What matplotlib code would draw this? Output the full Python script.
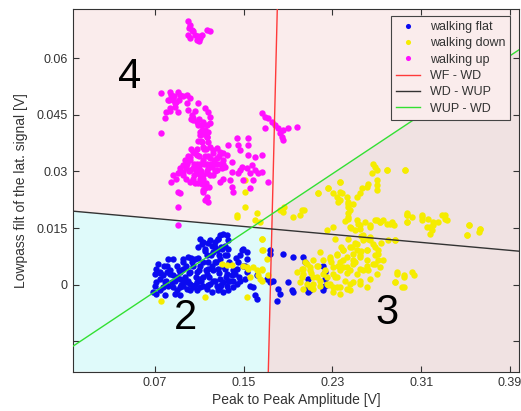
import numpy as np
import matplotlib
matplotlib.use('Agg')
import matplotlib.pyplot as plt

plt.rcParams['font.family'] = ['Liberation Sans', 'DejaVu Sans']

# walking flat (blue)
flat_x = [0.1106, 0.1136, 0.1151, 0.1166, 0.1181, 0.1121, 0.1091, 0.1211, 0.1241, 0.1271,
          0.1286, 0.1316, 0.1347, 0.1361, 0.1331, 0.1301, 0.1257, 0.1226, 0.1196, 0.1361,
          0.1347, 0.1286, 0.1241, 0.1211, 0.1181, 0.1166, 0.1136, 0.1106, 0.1076, 0.1046,
          0.1016, 0.0986, 0.0955, 0.0925, 0.0896, 0.0865, 0.0835, 0.0806, 0.0775, 0.0745,
          0.0715, 0.0700, 0.0685, 0.0715, 0.0745, 0.0775, 0.0790, 0.0820, 0.0851, 0.0865,
          0.0896, 0.0925, 0.0955, 0.0986, 0.1016, 0.1046, 0.1076, 0.1106, 0.1136, 0.1166,
          0.1196, 0.1226, 0.1257, 0.1286, 0.1316, 0.1347, 0.1377, 0.1392, 0.1422, 0.1437,
          0.1452, 0.1467, 0.1482, 0.1497, 0.1527, 0.1527, 0.1512, 0.1527, 0.1512, 0.1467,
          0.1437, 0.1406, 0.1361, 0.1316, 0.1271, 0.0865, 0.0820, 0.0806, 0.0730, 0.0715,
          0.0700, 0.0745, 0.0955, 0.1001, 0.1031, 0.1061, 0.1016, 0.0955, 0.1076, 0.1106,
          0.0896, 0.0925, 0.1271, 0.1331, 0.1347, 0.1286, 0.0790, 0.0925, 0.0880, 0.1211,
          0.1406, 0.1557, 0.1587, 0.1602, 0.1617, 0.1707, 0.1737, 0.1617,
          0.1737, 0.1737, 0.1857, 0.1947, 0.2038, 0.2053, 0.1767, 0.1812, 0.1828, 0.1798,
          0.1902, 0.1933, 0.1947, 0.2083, 0.2083, 0.2098, 0.2083, 0.2218, 0.2233, 0.2233,
          0.2233, 0.2218,
          0.092, 0.095, 0.098, 0.101, 0.104, 0.107, 0.110, 0.113, 0.116, 0.119,
          0.122, 0.125, 0.128, 0.131, 0.134, 0.137, 0.140, 0.143, 0.146, 0.149,
          0.088, 0.094, 0.100, 0.106, 0.112, 0.118, 0.124, 0.130, 0.136, 0.115,
          0.118, 0.121, 0.124, 0.127, 0.130, 0.133, 0.128, 0.075, 0.080, 0.084,
          0.078, 0.097, 0.103, 0.109]
flat_y = [0.0122, 0.0113, 0.0096, 0.0078, 0.0060, 0.0109, 0.0100, 0.0104, 0.0113, 0.0122,
          0.0131, 0.0135, 0.0131, 0.0118, 0.0104, 0.0096, 0.0091, 0.0087, 0.0118, 0.0096,
          0.0078, 0.0069, 0.0060, 0.0051, 0.0042, 0.0029, 0.0020, 0.0016, 0.0007, -0.0002,
          0.0003, 0.0007, 0.0011, 0.0016, 0.0020, 0.0025, 0.0029, 0.0033, 0.0025, 0.0016,
          0.0007, -0.0002, -0.0020, -0.0024, -0.0015, -0.0006, 0.0007, -0.0002, 0.0007, -0.0006,
          -0.0015, -0.0006, -0.0002, -0.0011, -0.0015, -0.0006, -0.0015, -0.0006, -0.0002, -0.0011,
          0.0003, 0.0011, -0.0002, -0.0006, 0.0007, -0.0002, 0.0011, 0.0025, 0.0029, 0.0042,
          0.0060, 0.0078, 0.0091, 0.0096, 0.0087, 0.0069, 0.0051, 0.0033, 0.0016, 0.0011,
          0.0003, -0.0006, -0.0015, -0.0020, -0.0015, 0.0069, 0.0069, 0.0051, 0.0056, 0.0042,
          0.0029, 0.0033, 0.0069, 0.0073, 0.0060, 0.0069, 0.0033, 0.0042, 0.0033, 0.0051,
          0.0051, 0.0033, 0.0042, 0.0042, 0.0029, 0.0016, -0.0028, -0.0028, -0.0024, -0.0020,
          0.0011, -0.0002, -0.0006, -0.0028, -0.0037, 0.0016, 0.0007, 0.0025,
          0.0091, 0.0082, 0.0082, 0.0073, 0.0073, 0.0060, 0.0011, -0.0011, -0.0024, -0.0042,
          0.0007, -0.0015, -0.0020, 0.0016, -0.0006, -0.0015, -0.0020, 0.0051, 0.0033, 0.0016,
          -0.0002, -0.0015,
          0.004, 0.006, 0.005, 0.003, 0.005, 0.002, 0.004, 0.006, 0.004, 0.002,
          0.004, 0.006, 0.003, 0.005, 0.002, 0.006, 0.004, 0.007, 0.002, 0.005,
          0.001, 0.000, 0.001, 0.000, 0.001, 0.000, 0.001, 0.000, 0.001, 0.009,
          0.011, 0.008, 0.010, 0.012, 0.010, 0.008, 0.008, 0.003, 0.001, 0.004,
          0.005, 0.002, 0.007, 0.007]

# walking down (yellow)
down_x = [0.2669, 0.2684, 0.2700, 0.2655, 0.2790, 0.2955, 0.2624, 0.2610, 0.2700, 0.2700,
          0.2700, 0.2369, 0.2263, 0.2308, 0.2339, 0.2353, 0.2369, 0.2384, 0.2429, 0.2444,
          0.2444, 0.2444, 0.2444, 0.2489, 0.2519, 0.2549, 0.2564, 0.2173, 0.2023, 0.2008,
          0.1947, 0.1857, 0.1828, 0.2249, 0.2308, 0.2459, 0.2504, 0.2549, 0.2594, 0.2639,
          0.2684, 0.2729, 0.2759, 0.2820, 0.2970, 0.2970, 0.2865, 0.2579, 0.2639, 0.2684,
          0.2714, 0.2610, 0.2519, 0.2474, 0.2398, 0.2339, 0.2279, 0.2188, 0.2128, 0.2068,
          0.2023, 0.2038, 0.2098, 0.2159, 0.2218, 0.2308, 0.2369, 0.2429, 0.2489, 0.2549,
          0.2610, 0.2669, 0.2714, 0.2398, 0.2459, 0.2519, 0.2579, 0.2339, 0.2414, 0.2489,
          0.2549, 0.2610, 0.2279, 0.2339, 0.2128, 0.2098, 0.2038, 0.2308, 0.2369, 0.2459,
          0.2880, 0.2940, 0.2865, 0.2925,
          0.2970, 0.3015, 0.3106, 0.3106, 0.3165, 0.3255, 0.3316, 0.3331, 0.3210, 0.3196,
          0.3181, 0.3151, 0.2970, 0.3526, 0.3511, 0.3631, 0.3616, 0.2835, 0.2865, 0.2804,
          0.2955, 0.2790,
          0.2369, 0.2444, 0.2459, 0.2444, 0.2519, 0.2549, 0.2639, 0.2700, 0.2729, 0.2790,
          0.2850, 0.2970, 0.3106, 0.3181, 0.3210, 0.3286, 0.3316, 0.3526, 0.3631, 0.3511,
          0.2880, 0.2940, 0.3015, 0.3030, 0.2865, 0.2940, 0.2700, 0.2639, 0.2549, 0.2459,
          0.2429, 0.2369, 0.2308, 0.2249, 0.2188, 0.2128, 0.2068, 0.2008, 0.1978, 0.2038,
          0.2098, 0.2159, 0.2218, 0.2279, 0.2339, 0.2398, 0.2459, 0.2519, 0.2579, 0.2639,
          0.2669, 0.2610, 0.2549, 0.2489, 0.2429, 0.2369, 0.2308, 0.2249, 0.2128, 0.2023,
          0.2549, 0.2610, 0.2684, 0.2729, 0.2759, 0.2714, 0.2489, 0.2398,
          0.1302, 0.1347, 0.1392, 0.1497, 0.1527, 0.1542, 0.1587, 0.1617, 0.1632, 0.1662,
          0.1662, 0.1677, 0.1707, 0.1647, 0.1722, 0.1557, 0.1151, 0.0760, 0.1437, 0.1602,
          0.1527, 0.1512, 0.1512, 0.1512, 0.1437, 0.1617, 0.1647, 0.1662, 0.1662, 0.1662,
          0.1662, 0.2173, 0.2263, 0.2369, 0.2046, 0.1864,
          0.232, 0.238, 0.244, 0.250, 0.256, 0.262, 0.247, 0.253, 0.241, 0.235,
          0.229, 0.223, 0.217, 0.211, 0.205, 0.243, 0.250, 0.256, 0.262, 0.268,
          0.274, 0.219, 0.226, 0.232]
down_y = [0.0321, 0.0312, 0.0303, 0.0295, 0.0303, 0.0303, 0.0268, 0.0259, 0.0277, 0.0264,
          0.0250, 0.0272, 0.0255, 0.0242, 0.0233, 0.0219, 0.0246, 0.0242, 0.0233, 0.0219,
          0.0206, 0.0189, 0.0175, 0.0215, 0.0233, 0.0242, 0.0255, 0.0242, 0.0197, 0.0184,
          0.0179, 0.0193, 0.0197, 0.0144, 0.0153, 0.0153, 0.0144, 0.0149, 0.0166, 0.0157,
          0.0171, 0.0166, 0.0171, 0.0162, 0.0166, 0.0184, 0.0118, 0.0131, 0.0118, 0.0100,
          0.0091, 0.0091, 0.0091, 0.0100, 0.0091, 0.0082, 0.0073, 0.0087, 0.0065, 0.0056,
          0.0042, 0.0029, 0.0038, 0.0020, 0.0029, 0.0047, 0.0060, 0.0073, 0.0065, 0.0078,
          0.0065, 0.0056, 0.0065, 0.0047, 0.0038, 0.0029, 0.0038, 0.0020, 0.0011, 0.0007,
          0.0003, -0.0006, 0.0003, -0.0006, 0.0003, -0.0006, -0.0011, -0.0020, -0.0024, -0.0015,
          0.0029, 0.0025, 0.0007, -0.0006,
          0.0189, 0.0179, 0.0184, 0.0171, 0.0175, 0.0166, 0.0184, 0.0171, 0.0157, 0.0144,
          0.0135, 0.0153, 0.0166, 0.0157, 0.0131, 0.0149, 0.0140, 0.0166, 0.0118, 0.0118,
          0.0303, 0.0303,
          0.0224, 0.0215, 0.0197, 0.0179, 0.0171, 0.0157, 0.0153, 0.0171, 0.0166, 0.0162,
          0.0157, 0.0184, 0.0179, 0.0153, 0.0166, 0.0184, 0.0175, 0.0157, 0.0149, 0.0131,
          0.0033, 0.0020, 0.0033, 0.0025, 0.0007, -0.0006, 0.0029, 0.0016, 0.0011, 0.0003,
          -0.0011, -0.0006, -0.0006, 0.0003, -0.0002, -0.0011, 0.0003, 0.0007, 0.0033, 0.0042,
          0.0047, 0.0051, 0.0065, 0.0069, 0.0078, 0.0091, 0.0100, 0.0109, 0.0118, 0.0126,
          0.0109, 0.0091, 0.0073, 0.0056, 0.0047, 0.0038, 0.0029, 0.0020, 0.0020, 0.0020,
          0.0042, 0.0051, 0.0056, 0.0047, 0.0065, 0.0082, 0.0082, 0.0065,
          0.0056, 0.0053, 0.0053, 0.0051, 0.0047, 0.0042, 0.0047, 0.0038, 0.0025, 0.0042,
          0.0122, 0.0091, 0.0069, 0.0016, 0.0025, 0.0020, -0.0033, -0.0042, 0.0179, 0.0171,
          -0.0033, 0.0277, 0.0246, 0.0206, 0.0184, 0.0189, 0.0166, 0.0122, 0.0091, 0.0038,
          0.0011, 0.0242, 0.0255, 0.0272, 0.0197, 0.0206,
          0.012, 0.010, 0.012, 0.011, 0.013, 0.012, 0.015, 0.016, 0.017, 0.005,
          0.006, 0.004, 0.005, 0.003, 0.006, 0.003, 0.006, 0.009, 0.004, 0.008,
          0.011, 0.001, 0.000, 0.002]

# walking up (magenta)
up_x = [0.1000, 0.1016, 0.1010, 0.1031, 0.1046, 0.1000, 0.1016, 0.1061, 0.1091, 0.1076,
        0.1106, 0.1121, 0.1166, 0.1196, 0.1100,
        0.0760, 0.0835, 0.0850, 0.0910, 0.0925, 0.0986, 0.1016, 0.0820, 0.0865, 0.0895,
        0.0880, 0.0910, 0.0835, 0.0805, 0.0790, 0.0986, 0.1001, 0.1031, 0.1091, 0.1151,
        0.1181, 0.1196, 0.1046, 0.1076, 0.1121, 0.1196, 0.1151, 0.1181, 0.0760, 0.1106,
        0.1662, 0.1692, 0.1722, 0.1752, 0.1782, 0.1812, 0.1857, 0.1902, 0.1978, 0.1692,
        0.1827, 0.1842, 0.1857,
        0.1046, 0.1091, 0.1121, 0.1166, 0.1106, 0.1166, 0.1181, 0.1121, 0.1136, 0.1196,
        0.1226, 0.1256, 0.1286, 0.1046, 0.1076, 0.1016, 0.0986, 0.0955, 0.0925, 0.0910,
        0.0865, 0.0850, 0.0895, 0.0955, 0.1016, 0.1061, 0.1106, 0.1166, 0.1136, 0.1196,
        0.1256, 0.1286, 0.1316, 0.1301, 0.1331, 0.1346, 0.1256, 0.1226, 0.1166, 0.1136,
        0.1106, 0.1076, 0.1046, 0.1016, 0.1121, 0.1151, 0.1136, 0.1166, 0.1181, 0.1151,
        0.0910, 0.0910, 0.1391, 0.1376, 0.1391, 0.1406, 0.1316, 0.1286, 0.1467, 0.1451,
        0.1436, 0.1451, 0.1467, 0.1542, 0.1542, 0.1542, 0.1602, 0.1662, 0.1572, 0.1482,
        0.1527, 0.1557, 0.1602, 0.1632, 0.1587, 0.1557, 0.1497, 0.1722, 0.1361, 0.1316,
        0.1391, 0.1241, 0.1211,
        0.0910, 0.0925, 0.1662,
        0.098, 0.105, 0.108, 0.112, 0.115, 0.118, 0.100, 0.103, 0.108, 0.112,
        0.116, 0.121, 0.124, 0.109, 0.105, 0.114,
        0.095, 0.098, 0.101, 0.104, 0.107, 0.110, 0.113, 0.117, 0.120, 0.123,
        0.126, 0.102, 0.106, 0.110, 0.114, 0.118, 0.122, 0.111, 0.106, 0.116,
        0.119, 0.113, 0.109, 0.113, 0.117, 0.128, 0.131, 0.099, 0.093, 0.097,
        0.083, 0.087, 0.084, 0.088, 0.092, 0.095, 0.106, 0.110, 0.113, 0.103]
up_y = [0.0698, 0.0688, 0.0680, 0.0675, 0.0671, 0.0662, 0.0653, 0.0662, 0.0658, 0.0649,
        0.0653, 0.0662, 0.0675, 0.0673, 0.0644,
        0.0507, 0.0511, 0.0503, 0.0511, 0.0503, 0.0503, 0.0494, 0.0489, 0.0489, 0.0485,
        0.0471, 0.0458, 0.0467, 0.0458, 0.0441, 0.0481, 0.0463, 0.0450, 0.0481, 0.0467,
        0.0458, 0.0445, 0.0441, 0.0432, 0.0423, 0.0427, 0.0410, 0.0405, 0.0401, 0.0405,
        0.0454, 0.0445, 0.0441, 0.0432, 0.0423, 0.0414, 0.0410, 0.0414, 0.0418, 0.0414,
        0.0401, 0.0392, 0.0383,
        0.0436, 0.0423, 0.0410, 0.0423, 0.0396, 0.0392, 0.0379, 0.0379, 0.0365, 0.0365,
        0.0357, 0.0361, 0.0352, 0.0352, 0.0343, 0.0339, 0.0325, 0.0317, 0.0308, 0.0295,
        0.0290, 0.0272, 0.0281, 0.0299, 0.0303, 0.0312, 0.0321, 0.0321, 0.0330, 0.0335,
        0.0335, 0.0321, 0.0330, 0.0308, 0.0312, 0.0343, 0.0303, 0.0290, 0.0295, 0.0281,
        0.0290, 0.0295, 0.0281, 0.0272, 0.0268, 0.0255, 0.0246, 0.0233, 0.0219, 0.0224,
        0.0246, 0.0206, 0.0299, 0.0277, 0.0259, 0.0246, 0.0281, 0.0272, 0.0303, 0.0295,
        0.0388, 0.0370, 0.0357, 0.0388, 0.0370, 0.0343, 0.0339, 0.0343, 0.0317, 0.0312,
        0.0308, 0.0295, 0.0303, 0.0295, 0.0277, 0.0255, 0.0277, 0.0272, 0.0370, 0.0348,
        0.0325, 0.0321, 0.0312,
        0.0157, 0.0242, 0.0299,
        0.031, 0.029, 0.032, 0.030, 0.034, 0.031, 0.034, 0.036, 0.036, 0.038,
        0.036, 0.032, 0.030, 0.027, 0.032, 0.032,
        0.029, 0.028, 0.030, 0.031, 0.030, 0.031, 0.029, 0.030, 0.029, 0.033,
        0.032, 0.033, 0.035, 0.034, 0.036, 0.034, 0.035, 0.028, 0.027, 0.027,
        0.026, 0.025, 0.038, 0.040, 0.039, 0.034, 0.032, 0.032, 0.030, 0.033,
        0.049, 0.050, 0.046, 0.048, 0.049, 0.050, 0.046, 0.044, 0.043, 0.044]

# decision boundaries, end points at the axes edges
xlim = (-0.004, 0.398)
ylim = (-0.023, 0.073)
wf_wd_x = [0.1803, 0.1722]
wf_wd_y = [0.073, -0.023]
wd_wup_x = [-0.004, 0.398]
wd_wup_y = [0.0195, 0.0089]
wup_wd_x = [-0.004, 0.398]
wup_wd_y = [-0.0163, 0.0622]


def intersect(ax_, ay_, bx_, by_):
    p = np.array([ax_[0], ay_[0]]); r = np.array([ax_[1] - ax_[0], ay_[1] - ay_[0]])
    q = np.array([bx_[0], by_[0]]); s = np.array([bx_[1] - bx_[0], by_[1] - by_[0]])
    t = np.cross(q - p, s) / np.cross(r, s)
    return p + t * r


fig = plt.figure(figsize=(5.21, 4.11), dpi=100)
ax = fig.add_axes([0.1395, 0.0956, 0.8566, 0.8825])
ax.set_facecolor('#faecec')

# regions
p_rb = intersect(wf_wd_x, wf_wd_y, wd_wup_x, wd_wup_y)
p_rg = intersect(wf_wd_x, wf_wd_y, wup_wd_x, wup_wd_y)
ax.fill([xlim[0], wd_wup_x[0], p_rb[0], wf_wd_x[1]],
        [ylim[0], wd_wup_y[0], p_rb[1], ylim[0]], color='#dffafa', lw=0, zorder=0)
ax.fill([wf_wd_x[1], p_rg[0], wup_wd_x[1], xlim[1]],
        [ylim[0], p_rg[1], wup_wd_y[1], ylim[0]], color='#f0e2e2', lw=0, zorder=0)

ms = 4.6
ax.plot(flat_x, flat_y, 'o', color='#0a0af0', ms=ms, mew=0, label='walking flat', zorder=2)
ax.plot(down_x, down_y, 'o', color='#f5ec00', ms=ms, mew=0, label='walking down', zorder=2)
ax.plot(up_x, up_y, 'o', color='#ff10ff', ms=ms, mew=0, label='walking up', zorder=2)

ax.plot(wf_wd_x, wf_wd_y, color='#ff3a3a', lw=1.0, label='WF - WD', zorder=3)
ax.plot(wd_wup_x, wd_wup_y, color='#333333', lw=1.0, label='WD - WUP', zorder=3)
ax.plot(wup_wd_x, wup_wd_y, color='#33e033', lw=1.0, label='WUP - WD', zorder=3)

ax.text(0.0475, 0.0550, '4', fontsize=30, ha='center', va='center')
ax.text(0.098, -0.0089, '2', fontsize=30, ha='center', va='center')
ax.text(0.2793, -0.0074, '3', fontsize=30, ha='center', va='center')

ax.set_xlim(xlim)
ax.set_ylim(ylim)
ax.set_xticks([0.07, 0.15, 0.23, 0.31, 0.39])
ax.set_xticklabels(['0.07', '0.15', '0.23', '0.31', '0.39'])
ax.set_yticks([-0.015, 0, 0.015, 0.03, 0.045, 0.06])
ax.set_yticklabels(['', '0', '0.015', '0.03', '0.045', '0.06'])
ax.tick_params(direction='in', top=True, right=True, length=4, width=0.8,
               labelsize=9, labelcolor='#333333', color='#333333')
for sp in ax.spines.values():
    sp.set_color('#333333')
    sp.set_linewidth(0.8)

ax.set_xlabel('Peak to Peak Amplitude [V]', fontsize=10, color='#333333', labelpad=3)
ax.set_ylabel('Lowpass filt of the lat. signal [V]', fontsize=10, color='#333333', labelpad=6)

leg = ax.legend(loc='upper right', bbox_to_anchor=(0.98, 0.981), borderaxespad=0,
                fontsize=9, numpoints=1, handlelength=1.9, labelspacing=0.35,
                fancybox=False, framealpha=1, facecolor='#faecec', edgecolor='#444444',
                markerscale=0.8)
leg.get_frame().set_linewidth(0.8)
for t in leg.get_texts():
    t.set_color('#333333')

fig.savefig('out.png', dpi=100)
